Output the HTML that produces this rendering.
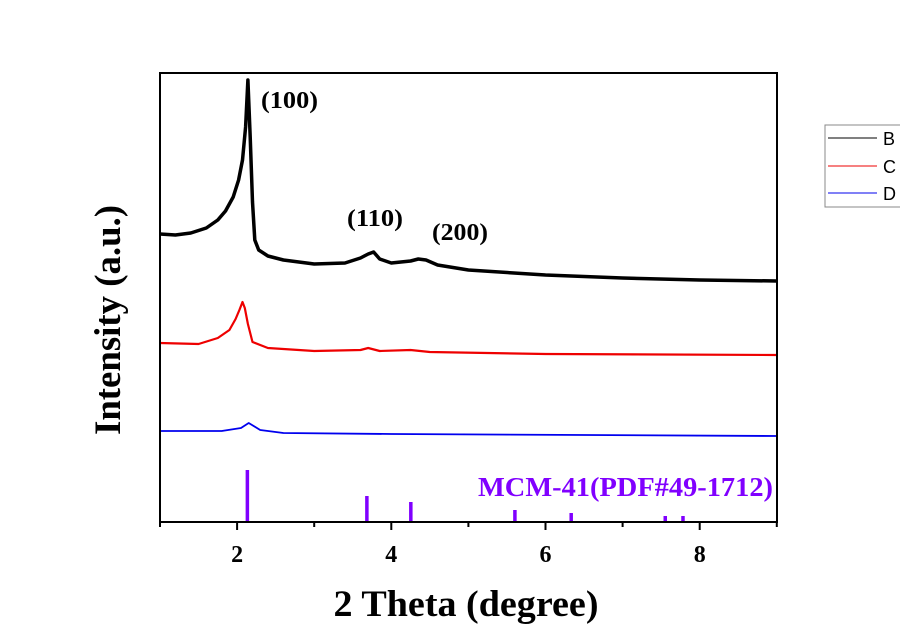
<!DOCTYPE html>
<html><head><meta charset="utf-8"><style>
html,body{margin:0;padding:0;background:#fff;}
svg{display:block;}
.t{font-family:"Liberation Serif",serif;font-weight:bold;}
</style></head><body>
<svg id="chart" width="900" height="626" viewBox="0 0 900 626" xmlns="http://www.w3.org/2000/svg">
<g id="plot"></g>
<rect x="160" y="73" width="617" height="449" fill="none" stroke="#000" stroke-width="2"/>
<g id="xticks"></g>
<text class="t" x="466" y="616" font-size="37" text-anchor="middle" textLength="265" lengthAdjust="spacingAndGlyphs">2 Theta (degree)</text>
<text class="t" x="0" y="0" font-size="37" text-anchor="middle" textLength="230" lengthAdjust="spacingAndGlyphs" transform="translate(120,320) rotate(-90)">Intensity (a.u.)</text>
<text class="t" x="261" y="108" font-size="24" textLength="57" lengthAdjust="spacingAndGlyphs">(100)</text>
<text class="t" x="347" y="226" font-size="24" textLength="56" lengthAdjust="spacingAndGlyphs">(110)</text>
<text class="t" x="432" y="240" font-size="24" textLength="56" lengthAdjust="spacingAndGlyphs">(200)</text>
<text class="t" x="478" y="496" font-size="27" fill="#8000ff" textLength="295" lengthAdjust="spacingAndGlyphs">MCM-41(PDF#49-1712)</text>
<g>
<rect x="825" y="125" width="90" height="82" fill="#fff" stroke="#888" stroke-width="1"/>
<line x1="828" y1="138" x2="877" y2="138" stroke="#000" stroke-width="1"/>
<text x="883" y="145" font-family="Liberation Sans,sans-serif" font-size="18">B</text>
<line x1="828" y1="166" x2="877" y2="166" stroke="#e00" stroke-width="1"/>
<text x="883" y="173" font-family="Liberation Sans,sans-serif" font-size="18">C</text>
<line x1="828" y1="193" x2="877" y2="193" stroke="#00e" stroke-width="1"/>
<text x="883" y="200" font-family="Liberation Sans,sans-serif" font-size="18">D</text>
</g>
</svg>
<script>
const xTicks=[2,4,6,8];
const xMinor=[1,3,5,7,9];
const bX=[1.0,1.2,1.4,1.6,1.75,1.85,1.95,2.02,2.07,2.11,2.14,2.17,2.2,2.23,2.28,2.4,2.6,3.0,3.4,3.6,3.7,3.77,3.85,4.0,4.25,4.35,4.45,4.6,5,6,7,8,9];
const bY=[288,287,289,294,302,311,325,342,362,395,442,385,320,282,272,266,262,258,259,264,268,270,263,259,261,263,262,257,252,247,244,242,241];
const cX=[1.0,1.5,1.75,1.9,1.98,2.03,2.07,2.1,2.14,2.2,2.4,3.0,3.6,3.7,3.85,4.25,4.5,6,9];
const cY=[179,178,184,192,203,212,220,214,198,180,174,171,172,174,171,172,170,168,167];
const dX=[1.0,1.8,2.05,2.15,2.3,2.6,4,9];
const dY=[91,91,94,99,92,89,88,86];
const stickX=[2.13,3.68,4.25,5.6,6.33,7.55,7.78];
const stickH=[52,26,20,12,9,6,6];
const NS="http://www.w3.org/2000/svg";
const sx=v=>160+(v-1)*77.1;
const sy=v=>522-v;
const plot=document.getElementById('plot');
function line(xs,ys,color,w,name){
  const p=document.createElementNS(NS,'path');
  p.setAttribute('d',xs.map((x,i)=>(i?'L':'M')+sx(x).toFixed(1)+' '+sy(ys[i]).toFixed(1)).join(''));
  p.setAttribute('fill','none');p.setAttribute('stroke',color);p.setAttribute('stroke-width',w);p.setAttribute('stroke-linejoin','round');
  
  
  plot.appendChild(p);
}
line(bX,bY,'#000',3.5,'series-b-line');
line(cX,cY,'#e00',2.2,'series-c-line');
line(dX,dY,'#00e',1.8,'series-d-line');
stickX.forEach((x,i)=>{
  const r=document.createElementNS(NS,'rect');
  r.setAttribute('x',sx(x)-1.5);r.setAttribute('y',522-stickH[i]);r.setAttribute('width',3.5);r.setAttribute('height',stickH[i]);r.setAttribute('fill','#8000ff');
  
  
  plot.appendChild(r);
});
const xt=document.getElementById('xticks');
xTicks.concat(xMinor).forEach(v=>{
  const l=document.createElementNS(NS,'line');
  l.setAttribute('x1',sx(v));l.setAttribute('x2',sx(v));l.setAttribute('y1',522);l.setAttribute('y2',xTicks.includes(v)?530:527);
  l.setAttribute('stroke','#000');l.setAttribute('stroke-width',2);
  
  
  xt.appendChild(l);
});
xTicks.forEach(v=>{
  const t=document.createElementNS(NS,'text');
  t.setAttribute('x',sx(v));t.setAttribute('y',562);t.setAttribute('text-anchor','middle');t.setAttribute('class','t');t.setAttribute('font-size','24');
  t.textContent=v;
  
  
  xt.appendChild(t);
});
</script>
</body></html>
